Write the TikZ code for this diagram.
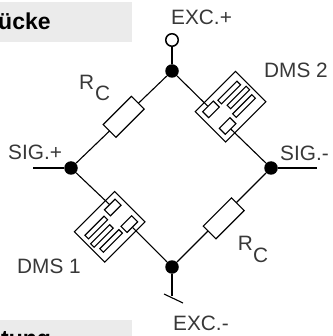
\documentclass[tikz,border=0pt]{standalone}
\usepackage{fontspec}
\setmainfont{Liberation Sans}
\tikzset{
  wire/.style={draw=black,line width=1.1pt},
  dot/.style={circle,fill=black,inner sep=0pt,minimum size=13.5pt},
  opendot/.style={circle,draw=black,fill=white,line width=1.5pt,inner sep=0pt,minimum size=12.5pt},
  lab/.style={text=black!78,font=\fontsize{20.8}{24}\selectfont,inner sep=0pt,anchor=base west},
  res/.style={draw=black,fill=white,line width=1.1pt,minimum width=40pt,minimum height=18pt,inner sep=0pt,rotate=45},
  gaugebody/.style={draw=black,fill=white,line width=1.1pt,minimum width=57pt,minimum height=43pt,inner sep=0pt,rotate=45},
  gaugepad/.style={draw=black,fill=white,line width=1.1pt,minimum width=15pt,minimum height=8.5pt,inner sep=0pt,rotate=45},
  gaugefinger/.style={draw=black,fill=white,line width=1.1pt,minimum width=27pt,minimum height=5pt,inner sep=0pt,rotate=45},
  band/.style={fill=black!8,draw=none},
  head/.style={font=\bfseries\fontsize{23}{26}\selectfont,inner sep=0pt,anchor=base west}
}
\begin{document}
\begin{tikzpicture}[x=1pt,y=-1pt]
\useasboundingbox (0,0) rectangle (332,336);
\clip (0,0) rectangle (332,336);
\fill[band] (0,2) rectangle (132,42);
\fill[band] (0,320) rectangle (132,336);
\node[head] (h1) at (-2,30) {ücke};
\node[head] (h2) at (1,346) {tung};
\node[dot] (T) at (172,71) {};
\node[dot] (L) at (71,168) {};
\node[dot] (R) at (271,168) {};
\node[dot] (B) at (172,267) {};
\node[opendot] (O) at (172,40) {};
\coordinate (SL) at (33,168);
\coordinate (SR) at (317,168);
\coordinate (G) at (172,296);
\coordinate (G1) at (164,294);
\coordinate (G2) at (183,303);
\draw[wire] (O) -- (T);
\draw[wire] (L) -- (T);
\draw[wire] (R) -- (B);
\draw[wire] (SL) -- (L);
\draw[wire] (R) -- (SR);
\draw[wire] (B) -- (G);
\draw[wire] (G1) -- (G2);
\node[res] (RC1) at (123.7,116.8) {};
\node[res] (RC2) at (223.7,218.3) {};
% DMS 2: first axis runs up-right, second axis down-right
\node[gaugebody] (D2) at (230.6,106.7) {};
\begin{scope}[shift={(230.6,106.7)},x={(0.7071pt,0.7071pt)},y={(0.7071pt,-0.7071pt)}]
\node[gaugepad] (D2a) at (-15.75,-12) {};
\node[gaugepad] (D2b) at (-15.75,11.5) {};
\node[gaugefinger] (D2f1) at (9,-11) {};
\node[gaugefinger] (D2f2) at (12,-1) {};
\node[gaugefinger] (D2f3) at (10,9) {};
\end{scope}
% DMS 1: the same gauge turned half a turn
\node[gaugebody] (D1) at (109.7,226.8) {};
\begin{scope}[shift={(109.7,226.8)},x={(-0.7071pt,-0.7071pt)},y={(-0.7071pt,0.7071pt)}]
\node[gaugepad] (D1a) at (-15.75,-12) {};
\node[gaugepad] (D1b) at (-15.75,11.5) {};
\node[gaugefinger] (D1f1) at (9,-11) {};
\node[gaugefinger] (D1f2) at (12,-1) {};
\node[gaugefinger] (D1f3) at (10,9) {};
\end{scope}
\draw[wire] (T) -- (D2a);
\draw[wire] (D2b) -- (R);
\draw[wire] (L) -- (D1b);
\draw[wire] (D1a) -- (B);
\node[lab] at (8,160) {SIG.+};
\node[lab] at (280,160.5) {SIG.-};
\node[lab] at (171,24.3) {EXC.+};
\node[lab] at (173,330) {EXC.-};
\node[lab] at (264,78) {DMS 2};
\node[lab] at (17,273) {DMS 1};
\node[lab] at (79,90) {R};
\node[lab] at (95,100.7) {C};
\node[lab] at (237.7,250.7) {R};
\node[lab] at (253,262) {C};
\end{tikzpicture}
\end{document}
